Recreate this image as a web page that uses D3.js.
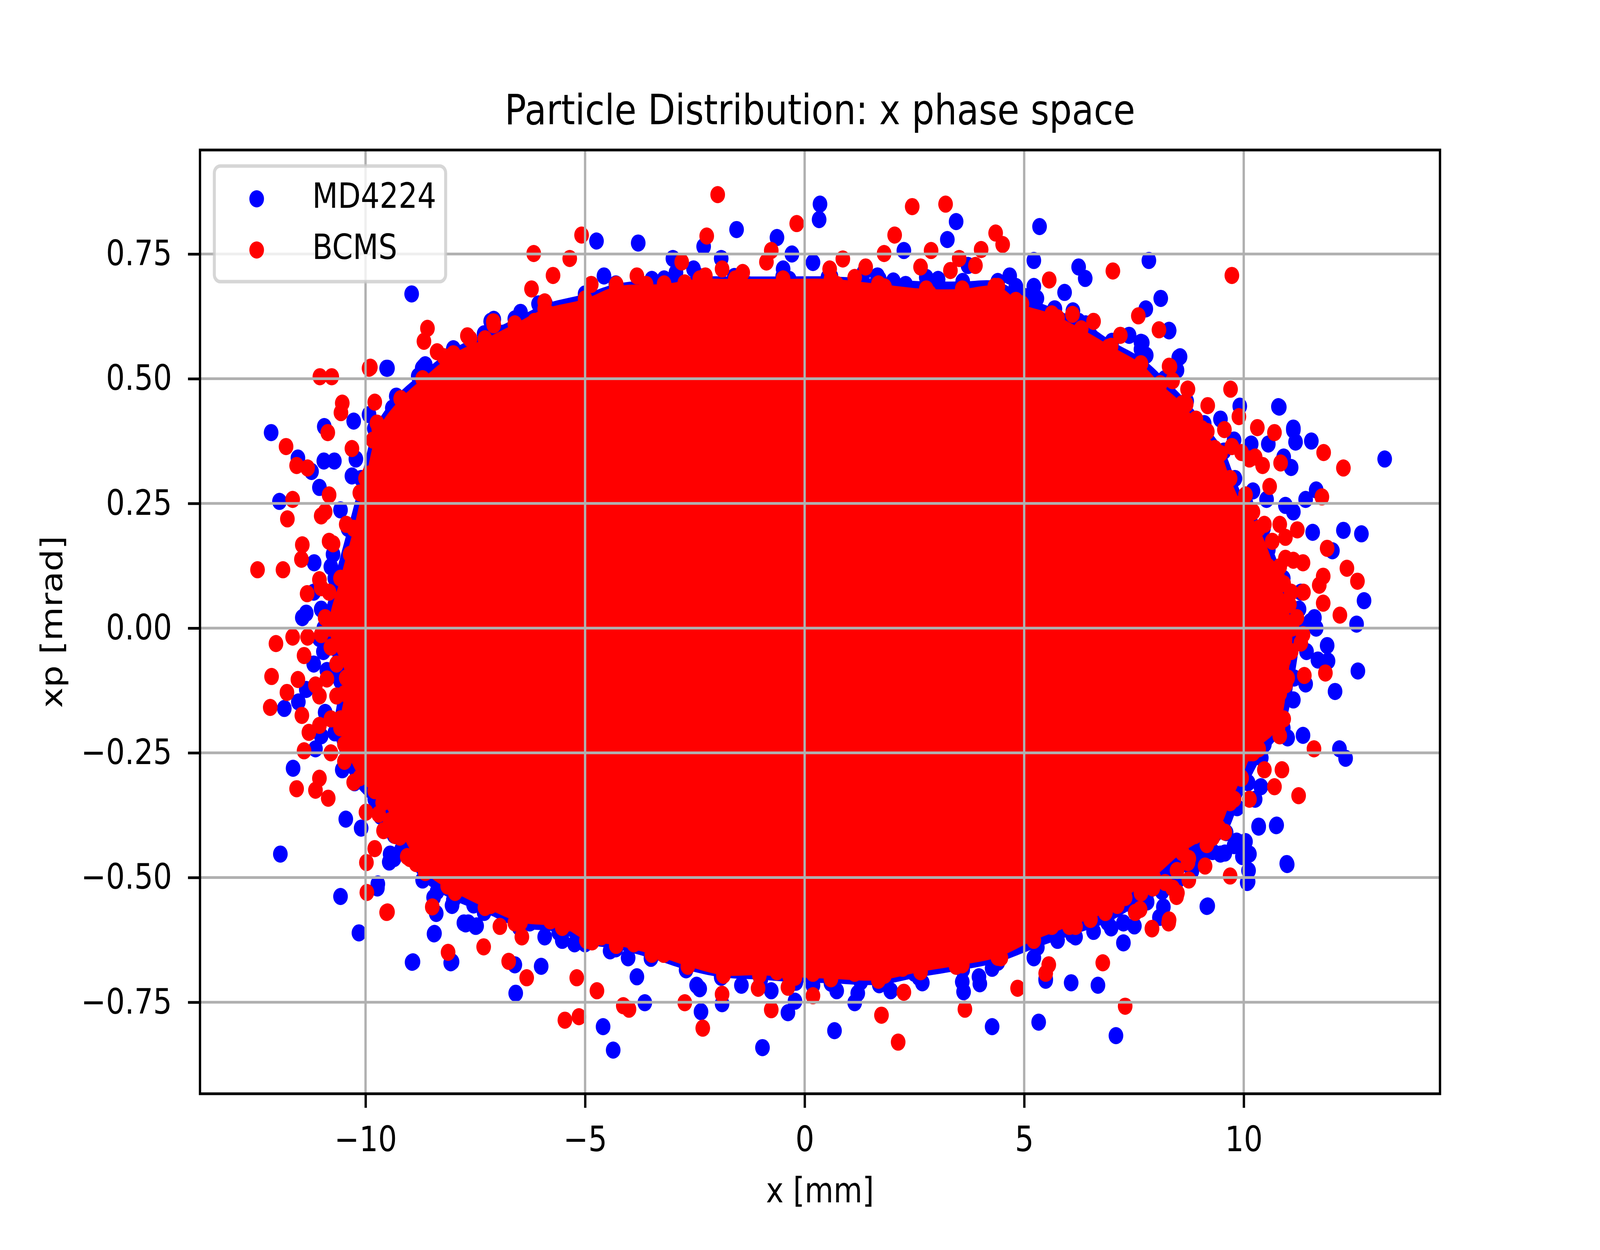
<!DOCTYPE html>
<html>
<head>
<meta charset="utf-8">
<script src="https://cdn.jsdelivr.net/npm/d3@7/dist/d3.min.js"></script>
<style>
  html, body { margin: 0; padding: 0; background: #fff; overflow: hidden; }
  svg { display: block; }
  text { font-family: "DejaVu Sans", sans-serif; }
</style>
</head>
<body>
<div id="chart"></div>
<script>
// figure size
var svgWidth = 4800;
var svgHeight = 3200;

// axes box
var margin = { top: 384, right: 480, bottom: 400, left: 600 };

// ticks
var xTicks = [-10, -5, 0, 5, 10];
var yTicks = [-0.75, -0.5, -0.25, 0, 0.25, 0.5, 0.75];

// series names
var seriesNames = ["MD4224", "BCMS"];

// solid core of MD4224 (outline, x [mm], xp [mrad])
var md4224Core = [
  [-10.95, 0.0], [-10.7, 0.1], [-10.4, 0.2], [-10.1, 0.3], [-9.8, 0.4], [-9.3, 0.465],
  [-8.8, 0.505], [-8.0, 0.56], [-7.3, 0.59], [-6.6, 0.62], [-5.9, 0.65], [-5.0, 0.67],
  [-4.3, 0.69], [-3.2, 0.70], [-2.4, 0.705], [-1.6, 0.705], [-0.5, 0.705], [0.6, 0.705],
  [1.7, 0.70], [2.8, 0.695], [3.6, 0.695], [4.4, 0.695], [5.0, 0.665], [5.7, 0.64],
  [6.4, 0.61], [7.0, 0.575], [7.7, 0.54], [8.2, 0.50], [8.7, 0.455], [9.1, 0.41],
  [9.55, 0.355], [9.8, 0.3], [10.05, 0.25], [10.45, 0.2], [10.9, 0.1], [11.25, 0.0],
  [11.15, -0.1], [10.9, -0.2], [10.4, -0.26], [10.1, -0.31], [9.85, -0.36], [9.6, -0.41],
  [8.9, -0.47], [8.2, -0.52], [7.5, -0.56], [6.9, -0.59], [6.1, -0.615], [5.3, -0.64],
  [4.4, -0.67], [3.6, -0.685], [2.6, -0.70], [1.7, -0.715], [0.6, -0.712], [-0.2, -0.71],
  [-1.0, -0.705], [-1.9, -0.70], [-2.7, -0.685], [-3.5, -0.662], [-4.3, -0.643], [-5.0, -0.633],
  [-5.6, -0.61], [-6.5, -0.60], [-7.3, -0.57], [-8.0, -0.545], [-8.7, -0.505], [-9.35, -0.415],
  [-9.75, -0.36], [-10.25, -0.31], [-10.7, -0.21], [-10.6, -0.1]
];

// MD4224 particles along the rim of the core
var md4224Edge = [
  [-4.57, 0.706], [-3.48, 0.699], [-2.93, 0.713], [-2.53, 0.720], [-2.46, 0.685], [-1.30, 0.689],
  [-0.49, 0.720], [-0.35, 0.699], [0.19, 0.685], [0.53, 0.703], [1.35, 0.713], [1.66, 0.706],
  [2.02, 0.696], [2.30, 0.689], [2.77, 0.703], [3.04, 0.699], [3.72, 0.727], [4.67, 0.706],
  [4.81, 0.685], [5.22, 0.685], [5.29, 0.661], [5.69, 0.640], [6.24, 0.615], [6.51, 0.587],
  [7.39, 0.587], [7.66, 0.559], [8.48, 0.517], [-6.47, 0.633], [-6.06, 0.650], [-6.88, 0.591],
  [-7.15, 0.615], [-8.64, 0.528], [-7.55, 0.531],
  [-9.73, -0.521], [-9.46, -0.469], [-9.18, -0.444], [-8.78, -0.434], [-8.37, -0.528], [-8.03, -0.556],
  [-7.76, -0.591], [-7.49, -0.598], [-6.88, -0.570], [-6.26, -0.591], [-5.92, -0.619], [-5.52, -0.626],
  [-5.24, -0.633], [-4.43, -0.647], [-4.02, -0.661], [-3.82, -0.699], [-3.34, -0.622], [-3.07, -0.636],
  [-2.66, -0.636], [-2.39, -0.723], [-1.44, -0.716], [-0.76, -0.727], [-0.22, -0.748], [0.19, -0.716],
  [0.73, -0.727], [1.28, -0.709], [1.96, -0.727], [2.50, -0.692], [3.59, -0.709], [3.99, -0.713],
  [4.27, -0.682], [5.22, -0.661], [5.49, -0.703], [5.76, -0.626], [6.17, -0.619], [6.58, -0.608],
  [6.98, -0.601], [7.26, -0.591], [7.80, -0.549], [8.14, -0.528], [8.48, -0.507], [9.02, -0.462],
  [9.29, -0.448], [9.57, -0.451], [9.84, -0.427], [9.97, -0.458], [10.11, -0.486],
  [-9.92, 0.428], [-9.39, 0.441], [-9.09, 0.386], [-8.92, 0.403], [-9.22, 0.352], [-10.22, 0.339],
  [-10.31, 0.305], [-10.57, 0.237], [-10.74, 0.148], [-10.79, 0.123], [-11.18, 0.072], [-11.01, 0.038],
  [-11.35, 0.030], [-11.05, -0.021], [-10.96, -0.047], [-11.18, -0.072], [-10.88, -0.085], [-10.57, -0.106],
  [-11.35, -0.123], [-10.92, -0.169], [-11.53, -0.148], [-11.01, -0.216], [-11.14, -0.242], [-10.53, -0.284],
  [-9.96, -0.288], [-9.79, -0.343], [-9.66, -0.377], [-9.35, -0.462], [-9.44, -0.453], [-9.09, -0.403],
  [-8.74, -0.428], [-8.52, -0.436], [-8.18, -0.436], [-7.96, -0.453], [-7.61, -0.504],
  [8.30, 0.597], [8.52, 0.542], [7.69, 0.572], [7.78, 0.547], [9.47, 0.419], [9.91, 0.445],
  [9.78, 0.377], [10.17, 0.369], [10.56, 0.369], [10.91, 0.343], [11.08, 0.322], [10.21, 0.275],
  [10.52, 0.258], [10.95, 0.246], [11.13, 0.233], [10.30, 0.191], [10.56, 0.157], [10.39, 0.089],
  [10.65, 0.081], [11.30, 0.072], [11.26, 0.038], [11.52, 0.013], [11.65, 0.000], [11.21, -0.013],
  [11.43, -0.047], [11.69, -0.064], [10.56, -0.114], [11.13, -0.144], [10.82, -0.208], [11.00, -0.220],
  [10.47, -0.233], [10.39, -0.318], [10.26, -0.343], [10.04, -0.428], [10.13, -0.453], [9.78, -0.436],
  [9.47, -0.453], [9.04, -0.462], [8.82, -0.487], [8.38, -0.453], [7.91, -0.462], [8.12, -0.521],
  [7.78, -0.538], [8.17, -0.559], [8.08, -0.580], [7.51, -0.597]
];

// scattered MD4224 particles away from the core
var md4224Points = [
  [0.35, 0.850], [0.33, 0.819], [3.45, 0.815], [-1.55, 0.799], [-4.74, 0.776], [-3.79, 0.772],
  [5.35, 0.805], [3.25, 0.779], [-0.63, 0.783], [-2.30, 0.765], [-0.29, 0.750], [2.26, 0.757],
  [-3.00, 0.741], [-1.90, 0.741], [5.22, 0.737], [6.24, 0.724], [7.84, 0.737], [0.19, 0.733],
  [6.39, 0.701], [5.92, 0.673], [8.11, 0.661], [-8.95, 0.670], [6.11, 0.636], [7.77, 0.640],
  [8.30, 0.596], [8.55, 0.544], [7.66, 0.573], [-9.52, 0.521], [-8.71, 0.521], [-7.08, 0.619],
  [10.79, 0.444], [11.13, 0.397],
  [-4.36, -0.846], [-0.96, -0.841], [-4.59, -0.799], [0.68, -0.807], [4.27, -0.799], [5.33, -0.790],
  [7.09, -0.817], [-2.36, -0.769], [-1.88, -0.753], [-3.64, -0.751], [-0.38, -0.771], [1.14, -0.751],
  [-6.58, -0.732], [-8.94, -0.670], [-8.06, -0.671], [-8.44, -0.613], [-6.00, -0.678], [-6.60, -0.675],
  [6.07, -0.711], [6.68, -0.716], [9.16, -0.558], [10.08, -0.510], [10.99, -0.474], [10.75, -0.395],
  [10.34, -0.399], [7.26, -0.631], [2.68, -0.711], [3.97, -0.699], [5.49, -0.706], [3.62, -0.729],
  [1.21, -0.732], [-2.46, -0.716], [-7.66, -0.591], [-8.45, -0.540],
  [-12.15, 0.392], [-11.96, 0.254], [-11.54, 0.341], [-10.95, 0.335], [-10.71, 0.335], [-11.23, 0.314],
  [-11.05, 0.282], [-10.94, 0.404], [-9.50, 0.521], [-8.93, 0.466], [-8.68, 0.524], [-10.27, 0.415],
  [-11.17, 0.131], [-11.85, -0.161], [-11.65, -0.281], [-11.94, -0.453], [-10.57, -0.538], [-10.45, -0.383],
  [-10.15, -0.611], [-8.92, -0.669], [-8.03, -0.669], [-8.43, -0.612], [-8.39, -0.572], [-7.72, -0.593],
  [-7.47, -0.597], [-7.54, -0.555], [-9.72, -0.513], [-10.10, -0.401], [-11.44, 0.021],
  [13.21, 0.339], [10.81, 0.443], [11.13, 0.401], [11.18, 0.373], [11.54, 0.375], [11.65, 0.277],
  [11.41, 0.258], [12.27, 0.196], [12.68, 0.189], [11.57, 0.192], [12.02, 0.155], [12.74, 0.055],
  [12.57, 0.008], [11.90, -0.035], [11.92, -0.066], [12.60, -0.086], [12.08, -0.127], [11.41, -0.112],
  [11.35, -0.215], [12.18, -0.242], [12.32, -0.261], [10.74, -0.396], [10.34, -0.397], [10.98, -0.472],
  [10.10, -0.508], [9.18, -0.557], [11.61, 0.021]
];

// solid core of BCMS
var bcmsCore = [
  [-10.83, 0.0], [-10.57, 0.1], [-10.27, 0.2], [-10.0, 0.3], [-9.7, 0.4], [-9.2, 0.46],
  [-8.7, 0.5], [-8.0, 0.55], [-7.28, 0.58], [-6.6, 0.61], [-5.92, 0.64], [-5.0, 0.66],
  [-4.29, 0.685], [-3.2, 0.69], [-2.39, 0.70], [-1.58, 0.70], [-0.49, 0.70], [0.6, 0.70],
  [1.68, 0.69], [2.77, 0.68], [3.59, 0.68], [4.4, 0.685], [4.95, 0.65], [5.63, 0.63],
  [6.3, 0.60], [6.98, 0.565], [7.66, 0.53], [8.1, 0.49], [8.6, 0.45], [9.04, 0.4],
  [9.47, 0.35], [9.69, 0.3], [9.95, 0.25], [10.34, 0.2], [10.78, 0.1], [11.1, 0.0],
  [11.0, -0.1], [10.78, -0.2], [10.21, -0.25], [9.95, -0.3], [9.69, -0.35], [9.43, -0.4],
  [8.6, -0.45], [7.95, -0.5], [7.3, -0.54], [6.85, -0.57], [6.03, -0.598], [5.22, -0.626],
  [4.4, -0.66], [3.59, -0.675], [2.64, -0.689], [1.68, -0.706], [0.6, -0.703], [-0.22, -0.70],
  [-1.03, -0.696], [-1.85, -0.696], [-2.66, -0.678], [-3.48, -0.654], [-4.29, -0.636], [-4.97, -0.626],
  [-5.52, -0.60], [-6.47, -0.59], [-7.28, -0.56], [-7.96, -0.53], [-8.64, -0.49], [-9.26, -0.40],
  [-9.61, -0.35], [-10.13, -0.3], [-10.57, -0.2], [-10.44, -0.1]
];

// BCMS particles along the rim of the core
var bcmsEdge = [
  [-4.86, 0.689], [-4.29, 0.689], [-3.82, 0.706], [-3.61, 0.689], [-2.80, 0.734], [-2.73, 0.692],
  [-2.26, 0.706], [-1.88, 0.720], [-1.41, 0.713], [-1.03, 0.678], [-0.87, 0.734], [-0.33, 0.678],
  [0.57, 0.720], [0.73, 0.689], [0.87, 0.740], [1.14, 0.703], [1.39, 0.724], [1.82, 0.684],
  [2.64, 0.724], [2.84, 0.671], [3.32, 0.717], [3.52, 0.741], [3.89, 0.727], [4.33, 0.685],
  [4.81, 0.657], [5.42, 0.612], [5.76, 0.622], [6.10, 0.629], [6.58, 0.615], [6.92, 0.563],
  [7.19, 0.587], [7.60, 0.626], [8.07, 0.598], [8.32, 0.524], [8.72, 0.479], [-5.92, 0.654],
  [-5.79, 0.629], [-6.15, 0.615], [-7.08, 0.608], [-7.62, 0.580], [-7.28, 0.563], [-6.60, 0.577],
  [-8.10, 0.510], [-7.83, 0.517], [-7.42, 0.556],
  [-9.59, -0.406], [-9.32, -0.416], [-9.05, -0.458], [-8.85, -0.472], [-8.40, -0.483], [-8.10, -0.517],
  [-7.83, -0.521], [-7.15, -0.556], [-6.94, -0.598], [-6.60, -0.591], [-6.44, -0.619], [-5.79, -0.587],
  [-5.38, -0.591], [-4.84, -0.629], [-4.63, -0.619], [-4.29, -0.636], [-3.89, -0.633], [-3.55, -0.626],
  [-3.21, -0.654], [-2.93, -0.647], [-2.39, -0.647], [-2.12, -0.661], [-1.64, -0.661], [-1.24, -0.675],
  [-1.03, -0.682], [-0.63, -0.689], [-0.35, -0.696], [0.19, -0.692], [0.60, -0.682], [1.14, -0.692],
  [1.55, -0.678], [1.82, -0.696], [2.23, -0.682], [2.64, -0.685], [3.04, -0.661], [3.45, -0.678],
  [3.72, -0.650], [4.13, -0.643], [4.47, -0.661], [4.67, -0.626], [5.22, -0.608], [5.63, -0.598],
  [6.17, -0.598], [6.51, -0.584], [6.85, -0.570], [7.12, -0.556], [7.53, -0.570], [7.66, -0.531],
  [7.93, -0.521], [8.21, -0.510], [8.48, -0.486], [8.75, -0.462], [9.16, -0.434], [9.29, -0.420],
  [9.57, -0.409], [8.89, -0.416],
  [-10.83, 0.267], [-11.01, 0.225], [-10.92, 0.233], [-10.44, 0.208], [-10.83, 0.174], [-10.74, 0.169],
  [-10.35, 0.148], [-10.31, 0.106], [-11.01, 0.081], [-10.83, 0.072], [-10.57, 0.047], [-10.92, 0.021],
  [-11.01, -0.013], [-10.79, -0.038], [-10.31, -0.047], [-11.40, -0.055], [-10.66, -0.072], [-10.27, -0.089],
  [-10.88, -0.102], [-11.14, -0.114], [-11.05, -0.136], [-10.66, -0.136], [-10.48, -0.131], [-10.79, -0.182],
  [-10.57, -0.182], [-11.05, -0.195], [-10.13, -0.195], [-10.48, -0.233], [-10.79, -0.250], [-10.48, -0.267],
  [-10.27, -0.309], [-9.79, -0.326], [-9.57, -0.343], [-9.70, -0.373], [-9.44, -0.386], [-9.22, -0.419],
  [-8.83, -0.369], [-8.39, -0.428], [-7.96, -0.470], [-7.83, -0.513], [-8.13, -0.517], [-9.92, 0.309],
  [-9.83, 0.377], [-9.74, 0.411], [-9.79, 0.453], [-9.44, 0.394], [-9.31, 0.377], [-8.70, 0.411],
  [-8.61, 0.445], [-8.39, 0.479], [-8.48, 0.487], [-7.96, 0.513], [-7.44, 0.555], [-7.09, 0.614],
  [-9.74, 0.292], [-10.31, 0.360], [-10.13, 0.271],
  [8.73, 0.479], [8.69, 0.449], [8.38, 0.496], [8.30, 0.525], [8.91, 0.419], [9.17, 0.394],
  [9.34, 0.360], [9.56, 0.398], [9.73, 0.364], [9.89, 0.424], [9.95, 0.352], [10.13, 0.339],
  [10.26, 0.343], [10.43, 0.326], [10.04, 0.267], [10.21, 0.233], [10.47, 0.208], [10.65, 0.174],
  [10.82, 0.208], [10.95, 0.182], [10.82, 0.123], [10.95, 0.140], [11.13, 0.136], [10.56, 0.123],
  [10.91, 0.089], [11.08, 0.072], [10.82, 0.055], [11.04, 0.047], [11.21, 0.021], [11.35, -0.013],
  [11.30, -0.030], [11.08, -0.047], [10.91, -0.064], [10.74, -0.089], [10.47, -0.064], [10.30, -0.098],
  [10.95, -0.114], [10.82, -0.131], [10.65, -0.157], [10.91, -0.182], [10.56, -0.182], [10.30, -0.208],
  [10.82, -0.216], [10.34, -0.242], [10.47, -0.284], [10.13, -0.250], [9.95, -0.301], [9.78, -0.343],
  [10.13, -0.343], [9.43, -0.360], [8.99, -0.369], [8.69, -0.377], [8.38, -0.411], [8.17, -0.403],
  [8.73, -0.470], [8.38, -0.521], [8.47, -0.538], [7.69, -0.517], [7.95, -0.504], [7.64, -0.564],
  [7.91, -0.602], [8.30, -0.585]
];

// scattered BCMS particles away from the core
var bcmsPoints = [
  [-1.98, 0.869], [2.45, 0.845], [3.21, 0.850], [-0.18, 0.811], [-5.08, 0.788], [-2.23, 0.786],
  [2.05, 0.788], [4.35, 0.792], [4.51, 0.769], [4.02, 0.759], [2.88, 0.757], [1.81, 0.751],
  [-6.17, 0.751], [-5.35, 0.741], [-0.76, 0.757], [-5.73, 0.707], [7.02, 0.716], [9.73, 0.707],
  [5.57, 0.698], [-6.22, 0.680], [-8.59, 0.601], [-8.67, 0.575], [-7.68, 0.586], [-8.37, 0.554],
  [-8.21, 0.544], [-9.89, 0.523], [9.70, 0.479], [10.31, 0.402], [9.18, 0.446],
  [-2.32, -0.802], [2.13, -0.830], [1.75, -0.776], [3.65, -0.764], [7.30, -0.758], [-5.46, -0.786],
  [-5.14, -0.779], [-4.13, -0.757], [-4.00, -0.764], [-2.73, -0.751], [-0.76, -0.765], [0.19, -0.737],
  [4.85, -0.722], [-9.52, -0.570], [-8.12, -0.650], [-7.31, -0.639], [-6.74, -0.668], [-6.33, -0.701],
  [-4.73, -0.727], [-5.19, -0.701], [-1.88, -0.734], [-1.06, -0.722], [-0.38, -0.720], [2.26, -0.730],
  [9.69, -0.497], [8.75, -0.505], [8.49, -0.531], [8.29, -0.591], [7.91, -0.603], [6.79, -0.671],
  [5.56, -0.675], [5.49, -0.692], [-8.48, -0.559],
  [-12.46, 0.117], [-11.88, 0.117], [-11.81, 0.364], [-11.66, 0.258], [-11.78, 0.219], [-11.04, 0.504],
  [-10.77, 0.504], [-9.92, 0.521], [-10.53, 0.451], [-10.56, 0.432], [-10.86, 0.392], [-11.57, 0.326],
  [-11.32, 0.321], [-11.44, 0.167], [-11.46, 0.138], [-12.04, -0.031], [-12.14, -0.097], [-11.79, -0.129],
  [-12.17, -0.159], [-11.45, -0.175], [-11.54, -0.103], [-11.29, -0.209], [-11.40, -0.246], [-11.57, -0.322],
  [-11.14, -0.325], [-10.85, -0.341], [-11.05, -0.301], [-9.99, -0.369], [-9.98, -0.470], [-9.97, -0.530],
  [-9.50, -0.569], [-8.99, -0.462], [-8.84, -0.470], [-9.79, -0.442], [-11.33, 0.069], [-11.05, 0.097],
  [-11.66, -0.018], [-11.32, -0.018],
  [10.70, 0.392], [11.82, 0.352], [12.27, 0.321], [11.78, 0.263], [10.59, 0.284], [10.84, 0.331],
  [11.22, 0.197], [11.90, 0.160], [12.35, 0.120], [12.59, 0.094], [11.81, 0.104], [11.72, 0.086],
  [11.81, 0.050], [12.19, 0.026], [11.35, 0.131], [11.36, 0.072], [11.86, -0.090], [11.38, -0.095],
  [11.60, -0.242], [11.25, -0.336], [10.70, -0.318], [10.87, -0.284], [9.12, -0.477]
];

var colors = { MD4224: "#0000ff", BCMS: "#ff0000" };
var dotR = 22;

var width = svgWidth - margin.left - margin.right;
var height = svgHeight - margin.top - margin.bottom;

// the 4800x3200 drawing is stretched over the whole window
var svg = d3.select("#chart")
  .append("svg")
  .attr("viewBox", `0 0 ${svgWidth} ${svgHeight}`)
  .attr("preserveAspectRatio", "none")
  .style("width", "100vw")
  .style("height", "100vh");

svg.append("rect")
  .attr("width", svgWidth)
  .attr("height", svgHeight)
  .attr("fill", "#fff");

var chartGroup = svg.append("g")
  .attr("transform", `translate(${margin.left}, ${margin.top})`);

// scales
var xScale = d3.scaleLinear()
  .domain([-13.77, 14.47])
  .range([0, width]);

var yScale = d3.scaleLinear()
  .domain([-0.9335, 0.9585])
  .range([height, 0]);

var coreLine = d3.line()
  .x(d => xScale(d[0]))
  .y(d => yScale(d[1]))
  .curve(d3.curveCatmullRomClosed);

// draw one series: core fill, then every particle as a dot
function drawSeries(core, edge, points, color) {
  var g = chartGroup.append("g");
  g.append("path")
    .attr("d", coreLine(core))
    .attr("fill", color);
  g.selectAll("circle")
    .data(core.concat(edge, points))
    .enter()
    .append("circle")
    .attr("cx", d => xScale(d[0]))
    .attr("cy", d => yScale(d[1]))
    .attr("r", dotR)
    .attr("fill", color);
}

drawSeries(md4224Core, md4224Edge, md4224Points, colors.MD4224);
drawSeries(bcmsCore, bcmsEdge, bcmsPoints, colors.BCMS);

// grid on top of the points
var grid = chartGroup.append("g");
grid.selectAll("line.vg")
  .data(xTicks)
  .enter()
  .append("line")
  .attr("class", "vg")
  .attr("x1", d => xScale(d))
  .attr("x2", d => xScale(d))
  .attr("y1", 0)
  .attr("y2", height)
  .attr("stroke", "#b0b0b0")
  .attr("stroke-width", 7);
grid.selectAll("line.hg")
  .data(yTicks)
  .enter()
  .append("line")
  .attr("class", "hg")
  .attr("x1", 0)
  .attr("x2", width)
  .attr("y1", d => yScale(d))
  .attr("y2", d => yScale(d))
  .attr("stroke", "#b0b0b0")
  .attr("stroke-width", 7);

// axes
var fmtX = d => d3.format("d")(d).replace("-", "\u2212");
var fmtY = d => d3.format(".2f")(d).replace("-", "\u2212");

var bottomAxis = d3.axisBottom(xScale)
  .tickValues(xTicks)
  .tickFormat(fmtX)
  .tickSizeInner(36)
  .tickSizeOuter(0)
  .tickPadding(48);

var leftAxis = d3.axisLeft(yScale)
  .tickValues(yTicks)
  .tickFormat(fmtY)
  .tickSizeInner(36)
  .tickSizeOuter(0)
  .tickPadding(48);

var xAxis = chartGroup.append("g")
  .attr("transform", `translate(0, ${height})`)
  .call(bottomAxis);

var yAxis = chartGroup.append("g")
  .call(leftAxis);

[xAxis, yAxis].forEach(function(ax) {
  ax.select(".domain").remove();
  ax.selectAll("line").attr("stroke", "#000").attr("stroke-width", 7);
  ax.selectAll("text")
    .attr("fill", "#000")
    .style("font-family", "DejaVu Sans")
    .style("font-size", "89px");
});

// spines
chartGroup.append("rect")
  .attr("x", 0)
  .attr("y", 0)
  .attr("width", width)
  .attr("height", height)
  .attr("fill", "none")
  .attr("stroke", "#000")
  .attr("stroke-width", 7);

// legend
var legend = svg.append("g");
legend.append("rect")
  .attr("x", 643)
  .attr("y", 425)
  .attr("width", 694)
  .attr("height", 296)
  .attr("rx", 18)
  .attr("fill", "#fff")
  .attr("fill-opacity", 0.8)
  .attr("stroke", "#cccccc")
  .attr("stroke-opacity", 0.8)
  .attr("stroke-width", 9);

var legendItems = legend.selectAll("g.item")
  .data(seriesNames)
  .enter()
  .append("g")
  .attr("class", "item")
  .attr("transform", (d, i) => `translate(770, ${509 + i * 131})`);

legendItems.append("circle")
  .attr("r", dotR)
  .attr("fill", d => colors[d]);

legendItems.append("text")
  .attr("x", 167)
  .attr("y", 23)
  .style("font-size", "89px")
  .text(d => d);

// title and axis labels
svg.append("text")
  .attr("x", margin.left + width / 2)
  .attr("y", 318)
  .attr("text-anchor", "middle")
  .style("font-size", "107px")
  .text("Particle Distribution: x phase space");

svg.append("text")
  .attr("x", margin.left + width / 2)
  .attr("y", 3078)
  .attr("text-anchor", "middle")
  .style("font-size", "89px")
  .text("x [mm]");

svg.append("text")
  .attr("transform", `translate(186, ${margin.top + height / 2}) rotate(-90)`)
  .attr("text-anchor", "middle")
  .style("font-size", "89px")
  .text("xp [mrad]");
</script>
</body>
</html>
